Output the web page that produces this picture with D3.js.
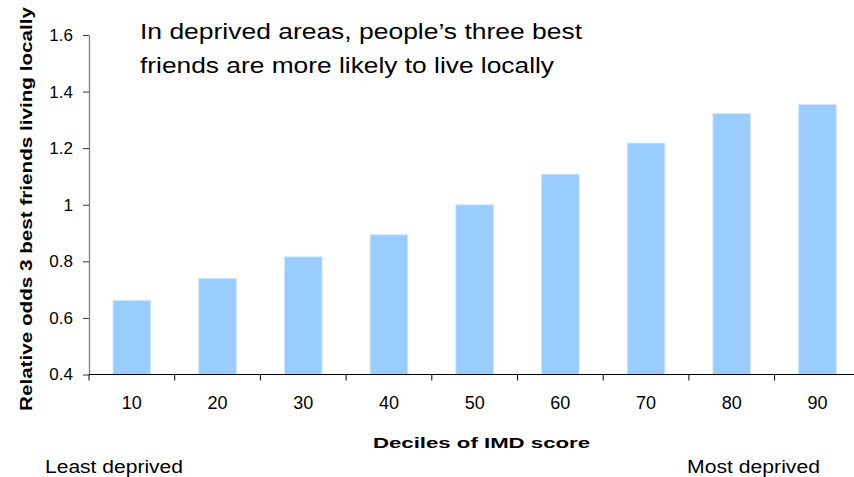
<!DOCTYPE html>
<html>
<head>
<meta charset="utf-8">
<script src="https://cdn.jsdelivr.net/npm/d3@7"></script>
<style>
  html, body { margin: 0; padding: 0; background: #fff; }
  svg { display: block; }
  text { font-family: Arial, "Liberation Sans", sans-serif; fill: #000; }
</style>
</head>
<body>
<svg id="chart" width="854" height="477"></svg>
<script>
// ---- data ----
const categories = ["10", "20", "30", "40", "50", "60", "70", "80", "90"];
const values = [0.662, 0.740, 0.816, 0.894, 1.0, 1.108, 1.218, 1.322, 1.355];
const yTicks = [0.4, 0.6, 0.8, 1, 1.2, 1.4, 1.6];
const titleLines = ["In deprived areas, people\u2019s three best", "friends are more likely to live locally"];
const yLabel = "Relative odds 3 best friends living  locally";
const xLabel = "Deciles of IMD score";
const leftNote = "Least deprived";
const rightNote = "Most deprived";

// ---- layout ----
const svg = d3.select("#chart");
const x0 = 89, step = 85.7;
const yTop = 35, yBottom = 374.5;
const pad = 0.56;

const x = d3.scaleBand()
  .domain(categories)
  .range([x0, x0 + step * categories.length])
  .paddingInner(pad)
  .paddingOuter(pad / 2);

const y = d3.scaleLinear().domain([0.4, 1.6]).range([yBottom, yTop]);

// bars
svg.append("g").selectAll("rect")
  .data(values)
  .join("rect")
  .attr("x", (d, i) => x(categories[i]))
  .attr("y", d => y(d))
  .attr("width", x.bandwidth())
  .attr("height", d => y(0.4) - y(d))
  .attr("fill", "#99CCFF")
  .attr("stroke", "#D2E8FF")
  .attr("stroke-width", 1);

// y axis
const yAxis = svg.append("g")
  .attr("transform", `translate(${x0},0)`)
  .call(d3.axisLeft(y).tickValues(yTicks).tickFormat(d => String(d)).tickSize(6).tickPadding(10).tickSizeOuter(0));
yAxis.select(".domain").attr("stroke", "#7f7f7f").attr("stroke-width", 1.3);
yAxis.selectAll(".tick line").attr("stroke", "#333");
yAxis.selectAll(".tick text")
  .style("font-size", "17px")
  .style("font-family", "Arial, 'Liberation Sans', sans-serif")
  .attr("fill", "#000");

// x axis line + boundary ticks
const xg = svg.append("g");
xg.append("line")
  .attr("x1", x0).attr("x2", 854)
  .attr("y1", yBottom).attr("y2", yBottom)
  .attr("stroke", "#000").attr("stroke-width", 1.2);
xg.selectAll("line.tk")
  .data(categories)
  .join("line")
  .attr("class", "tk")
  .attr("x1", d => x(d) - x.step() * pad / 2)
  .attr("x2", d => x(d) - x.step() * pad / 2)
  .attr("y1", yBottom).attr("y2", yBottom + 6)
  .attr("stroke", "#000");
xg.selectAll("text")
  .data(categories)
  .join("text")
  .attr("x", d => x(d) + x.bandwidth() / 2)
  .attr("y", 409)
  .attr("text-anchor", "middle")
  .style("font-size", "18px")
  .text(d => d);

// title
svg.append("g").selectAll("text")
  .data(titleLines)
  .join("text")
  .attr("x", 140)
  .attr("y", (d, i) => 39 + i * 33.5)
  .attr("textLength", (d, i) => i === 0 ? 442 : 414)
  .attr("lengthAdjust", "spacingAndGlyphs")
  .style("font-size", "22px")
  .text(d => d);

// y label
svg.append("text")
  .attr("transform", "translate(32,209) rotate(-90)")
  .attr("text-anchor", "middle")
  .attr("textLength", 404)
  .attr("lengthAdjust", "spacingAndGlyphs")
  .style("font-size", "17px")
  .style("font-weight", "bold")
  .text(yLabel);

// x label
svg.append("text")
  .attr("x", 373)
  .attr("y", 448)
  .attr("textLength", 217)
  .attr("lengthAdjust", "spacingAndGlyphs")
  .style("font-size", "15px")
  .style("font-weight", "bold")
  .text(xLabel);

// notes
svg.append("text")
  .attr("x", 45).attr("y", 473)
  .attr("textLength", 138).attr("lengthAdjust", "spacingAndGlyphs")
  .style("font-size", "17.5px")
  .text(leftNote);
svg.append("text")
  .attr("x", 687).attr("y", 473)
  .attr("textLength", 133).attr("lengthAdjust", "spacingAndGlyphs")
  .style("font-size", "17.5px")
  .text(rightNote);
</script>
</body>
</html>
